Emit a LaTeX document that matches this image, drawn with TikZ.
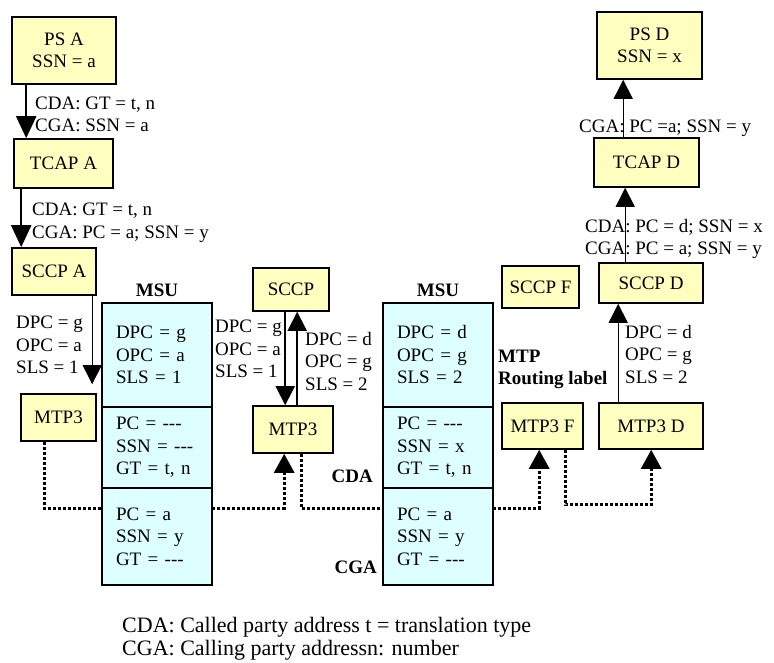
\documentclass[tikz,border=0pt]{standalone}
\usepackage{fontspec}
\setmainfont{Liberation Serif}
\usepackage{tikz}
\usetikzlibrary{arrows.meta,positioning}
\definecolor{boxyellow}{HTML}{FFFFC0}
\definecolor{msucyan}{HTML}{DDFFFF}
\newcommand\diagfont{\fontsize{19}{22.5}\selectfont}
\newcommand\nil{-{}-{}-}

\begin{document}
\begin{tikzpicture}[x=1pt, y=-1pt,
        blk/.style={draw, line width=1.6pt, fill=boxyellow, font=\diagfont, align=center, inner sep=0pt},
        msucell/.style={draw, line width=1.6pt, fill=msucyan, font=\diagfont, align=left, text width=82pt, inner xsep=14pt, outer sep=0pt, minimum height=#1, anchor=north west},
        note/.style={font=\diagfont, align=left, inner sep=0pt, anchor=west},
        tag/.style={font=\diagfont\bfseries, inner sep=0pt},
        sig/.style={-{Triangle[length=19pt,width=19pt]}, line width=1.2pt},
        bigsig/.style={-{Triangle[length=22pt,width=20pt]}, line width=2.2pt},
        bus/.style={line width=3pt, dash pattern=on 3pt off 2pt},
        busend/.style={bus, -{Triangle[length=19pt,width=20pt]}}]
        \useasboundingbox (0,0) rectangle (774,663);
        \node[blk, minimum width=104pt, minimum height=67pt] (psA) at (64,50.5) {PS A\\SSN = a};
        \node[blk, minimum width=99pt, minimum height=49pt] (tcapA) at (63.5,163.5) {TCAP A};
        \node[blk, minimum width=84pt, minimum height=47pt] (sccpA) at (54,271.5) {SCCP A};
        \node[blk, minimum width=75pt, minimum height=47pt] (mtpA) at (58.5,417.5) {MTP3};
        \node[blk, minimum width=76pt, minimum height=43pt] (sccpG) at (291,289.5) {SCCP};
        \node[blk, minimum width=80pt, minimum height=47pt] (mtpG) at (293,429.5) {MTP3};
        \node[blk, minimum width=77pt, minimum height=42pt] (sccpF) at (540.5,287) {SCCP F};
        \node[blk, minimum width=81pt, minimum height=46pt] (mtpF) at (542.5,426) {MTP3 F};
        \node[blk, minimum width=104pt, minimum height=40pt] (sccpD) at (651,283) {SCCP D};
        \node[blk, minimum width=104pt, minimum height=46pt] (mtpD) at (651,426) {MTP3 D};
        \node[blk, minimum width=105pt, minimum height=49pt] (tcapD) at (646.5,162.5) {TCAP D};
        \node[blk, minimum width=105pt, minimum height=67pt] (psD) at (649.5,45.5) {PS D\\SSN = x};

        \node[msucell=104pt] (msuL1) at (102,303) {DPC = g\\OPC = a\\SLS = 1};
        \node[msucell=81pt, below=0pt of msuL1] (msuL2) {PC = \nil\\SSN = \nil\\GT = t, n};
        \node[msucell=97pt, below=0pt of msuL2] (msuL3) {PC = a\\SSN = y\\GT = \nil};
        \node[msucell=104pt] (msuR1) at (383,303) {DPC = d\\OPC = g\\SLS = 2};
        \node[msucell=81pt, below=0pt of msuR1] (msuR2) {PC = \nil\\SSN = x\\GT = t, n};
        \node[msucell=97pt, below=0pt of msuR2] (msuR3) {PC = a\\SSN = y\\GT = \nil};
        \node[tag, above=6pt of msuL1] (msuLtag) {MSU};
        \node[tag, above=6pt of msuR1] (msuRtag) {MSU};

        \draw[bus] ([xshift=24pt]mtpA.south west) |- ([yshift=-20pt]msuL3.north west);
        \draw[busend] ([yshift=-20pt]msuL3.north east) -| ([xshift=32pt]mtpG.south west);
        \draw[bus] ([xshift=49pt]mtpG.south west) |- ([yshift=-20pt]msuR3.north west);
        \draw[busend] ([yshift=-20pt]msuR3.north east) -| ([xshift=38pt]mtpF.south west);
        \draw[busend] ([xshift=64pt]mtpF.south west) -- ++(0,55) -| ([xshift=53pt]mtpD.south west);

        \draw[bigsig] ([xshift=15pt]psA.south west) -- ([xshift=13pt]tcapA.north west);
        \draw[bigsig] ([xshift=8pt]tcapA.south west) -- ([xshift=10pt]sccpA.north west);
        \draw[sig] ([xshift=81pt]sccpA.south west) -- ([xshift=72pt,yshift=9pt]mtpA.north west);
        \draw[sig, line width=1.8pt] ([xshift=33pt]sccpG.south west) -- ([xshift=33pt]mtpG.north west);
        \draw[sig, line width=1.8pt] ([xshift=45pt]mtpG.north west) -- ([xshift=45pt]sccpG.south west);
        \draw[sig] ([xshift=20pt]mtpD.north west) -- ([xshift=20pt]sccpD.south west);
        \draw[sig] ([xshift=27pt]sccpD.north west) -- ([xshift=32pt]tcapD.south west);
        \draw[sig] ([xshift=30pt]tcapD.north west) -- ([xshift=27pt]psD.south west);

        \node[note] (addrA1) at (35,114.5) {CDA: GT = t, n\\CGA: SSN = a};
        \node[note] (addrA2) at (32,223) {CDA: GT = t, n\\CGA: PC = a; SSN = y};
        \node[note] (rlA) at (16,345) {DPC = g\\OPC = a\\SLS = 1};
        \node[note] (rlG1) at (215,349) {DPC = g\\OPC = a\\SLS = 1};
        \node[note] (rlG2) at (305,361) {DPC = d\\OPC = g\\SLS = 2};
        \node[note] (rlD) at (625,354.5) {DPC = d\\OPC = g\\SLS = 2};
        \node[note] (addrD1) at (579,128) {CGA: PC =a; SSN = y};
        \node[note] (addrD2) at (585,239) {CDA: PC = d; SSN = x\\CGA: PC = a; SSN = y};
        \node[note, font=\diagfont\bfseries] (mtprl) at (498,369.5) {MTP\\Routing label};
        \node[tag, anchor=east] (cdaTag) at (373,476) {CDA};
        \node[tag, anchor=east] (cgaTag) at (377,567) {CGA};
        \node[note, font=\fontsize{22}{23}\selectfont] (legend) at (122,638.5) {CDA: Called party address t = translation type\\CGA: Calling party addressn: number};
    \end{tikzpicture}
\end{document}
